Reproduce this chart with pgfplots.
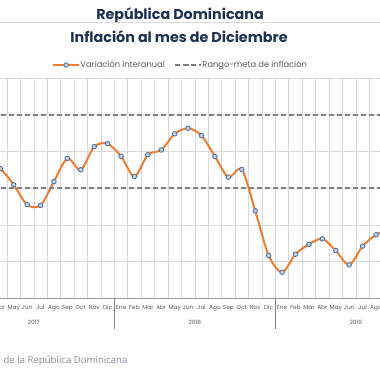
\documentclass[border=0pt]{standalone}
\usepackage{pgfplots}
\pgfplotsset{compat=1.18}
\usepackage{fontspec}
\setmainfont{Poppins}
\newfontfamily\srcfont{Open Sans}
\definecolor{navy}{HTML}{1F3050}
\definecolor{orng}{HTML}{ED7D31}
\definecolor{mkfill}{HTML}{BDD0EA}
\definecolor{mkdraw}{HTML}{4F6D96}
\definecolor{dgray}{HTML}{808080}
\definecolor{grid}{HTML}{D9D9D9}
\definecolor{lbl}{HTML}{595959}
\definecolor{src}{HTML}{8E8A98}
\begin{document}
\begin{tikzpicture}
\useasboundingbox (0pt,0pt) rectangle (380pt,380pt);
\begin{pgfinterruptboundingbox}
\node[font=\fontsize{14.3}{16}\selectfont\bfseries, text=navy] at (180pt,365pt) {República Dominicana};
\draw[grid, line width=0.8pt] (0pt,357.7pt) -- (380pt,357.7pt);
\node[font=\fontsize{14.3}{16}\selectfont\bfseries, text=navy] at (179pt,343.5pt) {Inflación al mes de Diciembre};
\node[font=\srcfont\fontsize{9.6}{11}\selectfont, text=src, anchor=east] at (131pt,19.3pt) {Fuente: Banco Central de la República Dominicana};
\begin{axis}[
  at={(-46.7pt,81.7pt)}, anchor=south west,
  scale only axis, width=483.1pt, height=220.3pt,
  xmin=0.5, xmax=36.5, ymin=0, ymax=6,
  clip=false,
  axis line style={draw=none},
  axis x line*=bottom,
  axis y line=none,
  xtick={1,...,36},
  xticklabels={Ene,Feb,Mar,Abr,May,Jun,Jul,Ago,Sep,Oct,Nov,Dic,Ene,Feb,Mar,Abr,May,Jun,Jul,Ago,Sep,Oct,Nov,Dic,Ene,Feb,Mar,Abr,May,Jun,Jul,Ago,Sep,Oct,Nov,Dic},
  xticklabel style={font=\fontsize{5.8}{6}\selectfont, text=lbl, inner sep=0pt, yshift=-7pt},
  major tick length=0pt, minor tick length=0pt,
  ytick=\empty,
  legend style={at={(axis description cs:0.469,1.059)}, anchor=center, draw=none, fill=none,
    font=\fontsize{8.3}{10}\selectfont, text=lbl, legend columns=2,
    /tikz/every even column/.append style={column sep=9pt},
    inner sep=0pt, nodes={inner sep=0.5pt}},
  legend image code/.code={\draw[mark repeat=2,mark phase=2,#1] plot coordinates {(0cm,0cm) (0.45cm,0cm) (0.9cm,0cm)};},
]
\pgfplotsinvokeforeach{0.5,1.5,...,36.5}{
  \draw[grid, line width=0.6pt] (axis cs:#1,0) -- (axis cs:#1,6);
}
\pgfplotsinvokeforeach{1,2,3,4,5,6}{
  \draw[grid, line width=0.6pt] (axis cs:0.5,#1) -- (axis cs:36.5,#1);
}
\draw[grid!70!black, line width=0.6pt] (axis cs:0.5,0) -- (axis cs:36.5,0);
\draw[grid!60!black, line width=0.6pt] (axis cs:12.5,0) -- ([yshift=-31pt]axis cs:12.5,0);
\draw[grid!60!black, line width=0.6pt] (axis cs:24.5,0) -- ([yshift=-31pt]axis cs:24.5,0);
\node[font=\fontsize{5.8}{6}\selectfont, text=lbl] at ([yshift=-23.7pt]axis cs:6.5,0) {2017};
\node[font=\fontsize{5.8}{6}\selectfont, text=lbl] at ([yshift=-23.7pt]axis cs:18.5,0) {2018};
\node[font=\fontsize{5.8}{6}\selectfont, text=lbl] at ([yshift=-23.7pt]axis cs:30.5,0) {2019};
\addplot[orng, line width=2pt, smooth, tension=0.5, mark=*, mark size=2.3pt,
  mark options={fill=mkfill, draw=mkdraw, line width=0.8pt}] coordinates {
(3,3.7) (4,3.53) (5,3.09) (6,2.55) (7,2.53) (8,3.18) (9,3.81) (10,3.50) (11,4.13) (12,4.21)
(13,3.87) (14,3.32) (15,3.91) (16,4.04) (17,4.48) (18,4.63) (19,4.43) (20,3.86) (21,3.30) (22,3.51) (23,2.38) (24,1.17)
(25,0.71) (26,1.20) (27,1.47) (28,1.62) (29,1.30) (30,0.91) (31,1.42) (32,1.73) (33,1.9)
};
\addlegendentry{Variación interanual}
\addplot[dgray, line width=2pt, dash pattern=on 5pt off 3pt] coordinates {(0.5,5) (36.5,5)};
\addlegendentry{Rango-meta de inflación}
\addplot[dgray, line width=2pt, dash pattern=on 5pt off 3pt, forget plot] coordinates {(0.5,3) (36.5,3)};
\end{axis}
\end{pgfinterruptboundingbox}
\end{tikzpicture}
\end{document}
